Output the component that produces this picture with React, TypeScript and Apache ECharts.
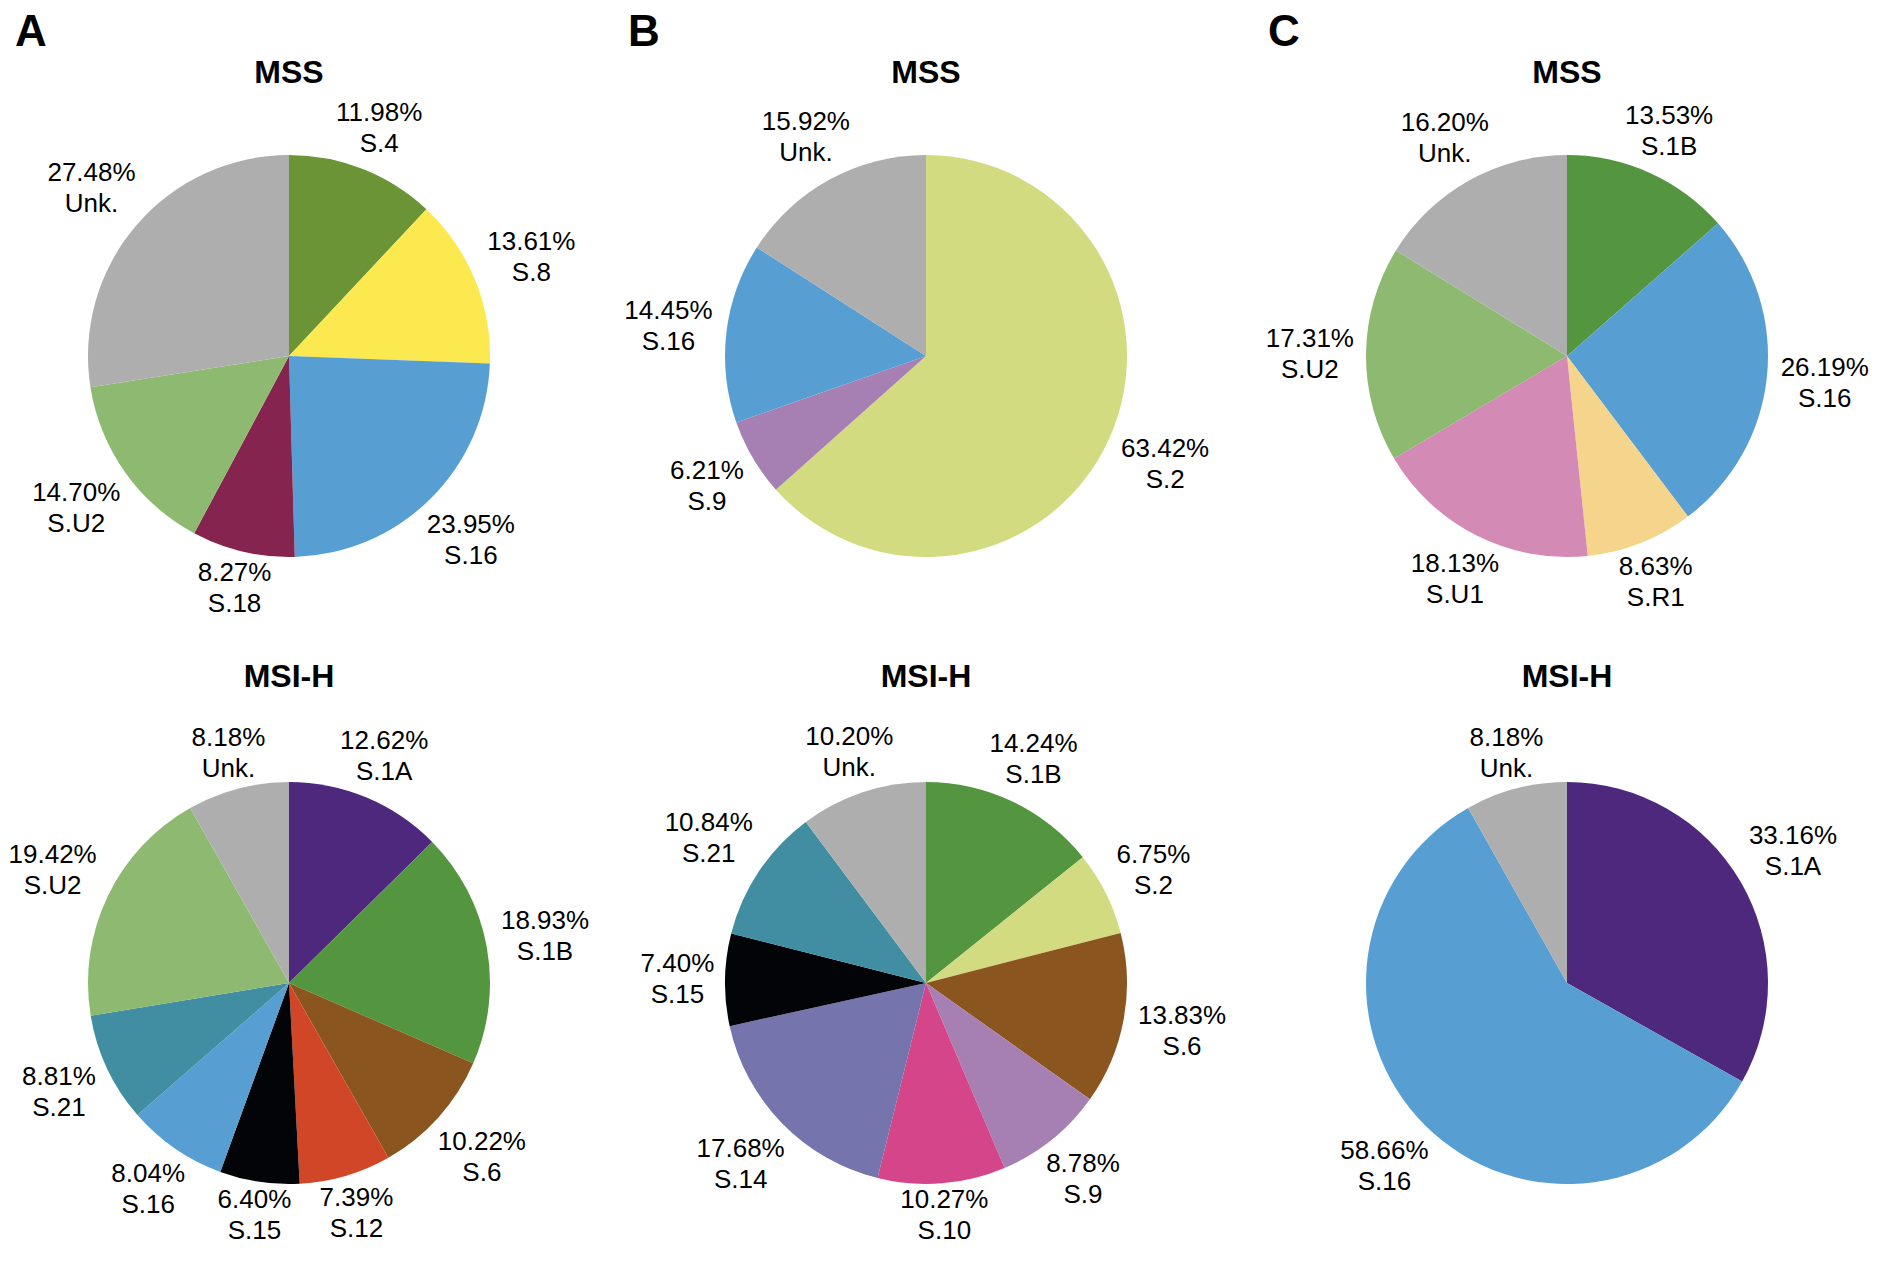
import React, { useEffect, useRef } from "react";
import * as echarts from "echarts";

// ---- Data ----
const aMssNames = ["S.4", "S.8", "S.16", "S.18", "S.U2", "Unk."];
const aMssValues = [11.98, 13.61, 23.95, 8.27, 14.7, 27.48];

const bMssNames = ["S.2", "S.9", "S.16", "Unk."];
const bMssValues = [63.42, 6.21, 14.45, 15.92];

const cMssNames = ["S.1B", "S.16", "S.R1", "S.U1", "S.U2", "Unk."];
const cMssValues = [13.53, 26.19, 8.63, 18.13, 17.31, 16.2];

const aMsiNames = ["S.1A", "S.1B", "S.6", "S.12", "S.15", "S.16", "S.21", "S.U2", "Unk."];
const aMsiValues = [12.62, 18.93, 10.22, 7.39, 6.4, 8.04, 8.81, 19.42, 8.18];

const bMsiNames = ["S.1B", "S.2", "S.6", "S.9", "S.10", "S.14", "S.15", "S.21", "Unk."];
const bMsiValues = [14.24, 6.75, 13.83, 8.78, 10.27, 17.68, 7.4, 10.84, 10.2];

const cMsiNames = ["S.1A", "S.16", "Unk."];
const cMsiValues = [33.16, 58.66, 8.18];

const panelLetters = ["A", "B", "C"];
const rowTitles = ["MSS", "MSI-H"];

const colorMap: Record<string, string> = {
  "S.4": "#6B9436",
  "S.8": "#FCE94F",
  "S.16": "#579FD3",
  "S.18": "#85244F",
  "S.U2": "#8DBA70",
  "Unk.": "#AEAEAF",
  "S.1A": "#4D287C",
  "S.1B": "#54953F",
  "S.6": "#8B5520",
  "S.12": "#D24628",
  "S.15": "#030407",
  "S.21": "#418EA3",
  "S.2": "#D3DB81",
  "S.9": "#A680B2",
  "S.10": "#D44689",
  "S.14": "#7574AD",
  "S.R1": "#F5D48B",
  "S.U1": "#D38AB5",
};

const FONT = '"Liberation Sans", Arial, Helvetica, sans-serif';

const W = 1878;
const H = 1264;
const colX = [289, 926, 1567];
const rowY = [356, 983];
const R = 201;
const LABEL_GAP = 3;
const LABEL_VPAD = 7;
const LABEL_HSCALE = 1.2;
const titleY = [72, 676];
const letterX = [15, 628, 1268];
const letterY = 30;

const pies = [
  { names: aMssNames, values: aMssValues, col: 0, row: 0 },
  { names: bMssNames, values: bMssValues, col: 1, row: 0 },
  { names: cMssNames, values: cMssValues, col: 2, row: 0 },
  { names: aMsiNames, values: aMsiValues, col: 0, row: 1 },
  { names: bMsiNames, values: bMsiValues, col: 1, row: 1 },
  { names: cMsiNames, values: cMsiValues, col: 2, row: 1 },
];

export default function App() {
  const ref = useRef<HTMLDivElement>(null);

  useEffect(() => {
    document.body.style.margin = "0";
    if (!ref.current) return;
    const chart = echarts.init(ref.current, undefined, { renderer: "svg" });

    const series: any[] = [];
    pies.forEach((p, i) => {
      const center = [colX[p.col], rowY[p.row]];
      series.push({
        type: "pie",
        id: "pie" + i,
        center,
        radius: R,
        startAngle: 90,
        clockwise: true,
        silent: true,
        emphasis: { disabled: true },
        label: { show: false },
        labelLine: { show: false },
        itemStyle: { borderWidth: 0 },
        data: p.names.map((n, k) => ({
          name: n,
          value: p.values[k],
          itemStyle: { color: colorMap[n] },
        })),
      });
      series.push({
        type: "pie",
        id: "lbl" + i,
        center,
        radius: [R, R * 1.49],
        startAngle: 90,
        clockwise: true,
        silent: true,
        avoidLabelOverlap: false,
        emphasis: { disabled: true },
        itemStyle: { color: "rgba(0,0,0,0)", borderWidth: 0 },
        labelLine: { show: false },
        label: {
          show: true,
          position: "inside",
          color: "#000",
          fontFamily: FONT,
          fontSize: 26,
          lineHeight: 31,
          align: "center",
          textBorderWidth: 0,
          formatter: (q: any) => `${Number(q.value).toFixed(2)}%\n${q.name}`,
        },
        // place each label box just outside the circle along its slice's mid direction
        labelLayout: (params: any) => {
          const lr = params.labelRect;
          if (!lr) return {};
          const lx = lr.x + lr.width / 2;
          const ly = lr.y + lr.height / 2;
          const dx = lx - center[0];
          const dy = ly - center[1];
          const len = Math.hypot(dx, dy) || 1;
          const s = dx / len;
          const c = -dy / len;
          const d =
            R +
            LABEL_GAP +
            LABEL_HSCALE * (lr.width / 2) * Math.abs(s) +
            (lr.height / 2 - LABEL_VPAD) * Math.abs(c);
          return {
            x: center[0] + d * s,
            y: center[1] - d * c,
            align: "center",
            verticalAlign: "middle",
          };
        },
        data: p.names.map((n, k) => ({ name: n, value: p.values[k] })),
      });
    });

    const graphics: any[] = [];
    panelLetters.forEach((L, c) => {
      graphics.push({
        type: "text",
        x: letterX[c],
        y: letterY,
        style: {
          text: L,
          fontFamily: FONT,
          fontSize: 44,
          fontWeight: "bold",
          fill: "#000",
          align: "left",
          verticalAlign: "middle",
        },
      });
      rowTitles.forEach((t, r) => {
        graphics.push({
          type: "text",
          x: colX[c],
          y: titleY[r],
          style: {
            text: t,
            fontFamily: FONT,
            fontSize: 32,
            fontWeight: "bold",
            fill: "#000",
            align: "center",
            verticalAlign: "middle",
          },
        });
      });
    });

    chart.setOption({
      animation: false,
      backgroundColor: "#fff",
      series,
      graphic: graphics,
    });

    return () => chart.dispose();
  }, []);

  return <div ref={ref} style={{ width: W, height: H }} />;
}
